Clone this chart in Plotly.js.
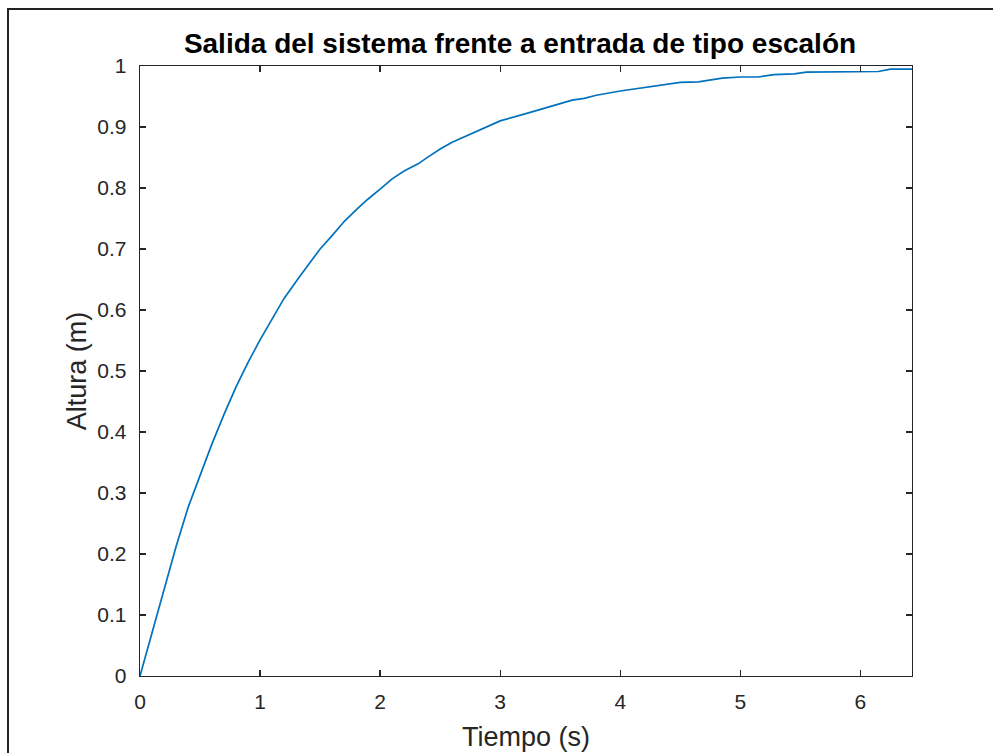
<!DOCTYPE html>
<html>
<head>
<meta charset="utf-8">
<script src="https://cdn.plot.ly/plotly-3.0.1.min.js"></script>
<style>
  html, body { margin: 0; padding: 0; background: #fff; }
  #chart { width: 993px; height: 753px; }
</style>
</head>
<body>
<div id="chart"></div>
<script>
// Step response of the system: time (s) and height (m)
const tiempo = [0, 0.3, 0.4, 0.5, 0.6, 0.7, 0.8, 0.9, 1.0, 1.1, 1.2, 1.33, 1.5, 1.6, 1.7, 1.8, 1.9, 2.0, 2.1, 2.2, 2.32, 2.4, 2.5, 2.6, 2.8, 3.0, 3.2, 3.4, 3.6, 3.7, 3.8, 4.0, 4.2, 4.5, 4.65, 4.85, 5.0, 5.15, 5.28, 5.45, 5.55, 5.75, 6.15, 6.25, 6.43];
const altura = [0, 0.212, 0.276, 0.33, 0.381, 0.429, 0.474, 0.514, 0.551, 0.585, 0.619, 0.655, 0.700, 0.722, 0.745, 0.764, 0.782, 0.798, 0.815, 0.828, 0.840, 0.851, 0.864, 0.875, 0.893, 0.910, 0.921, 0.932, 0.944, 0.947, 0.952, 0.959, 0.965, 0.973, 0.974, 0.980, 0.982, 0.982, 0.986, 0.987, 0.990, 0.990, 0.991, 0.995, 0.995];

const axisColor = '#262626';
const fontFamily = '"Liberation Sans", Arial, sans-serif';

const L = 140, R = 912, T = 66, B = 676;   // plot box in px
const W = 993, H = 753;

const trace = {
  x: tiempo,
  y: altura,
  type: 'scatter',
  mode: 'lines',
  line: { color: '#0072BD', width: 1.7 },
  hoverinfo: 'x+y'
};

const commonAxis = {
  showgrid: false,
  zeroline: false,
  showline: true,
  linecolor: axisColor,
  linewidth: 1.3,
  mirror: 'ticks',
  ticks: 'inside',
  ticklen: 6,
  tickwidth: 1.3,
  tickcolor: axisColor,
  tickfont: { family: fontFamily, size: 21, color: axisColor }
};

const layout = {
  width: W,
  height: H,
  margin: { l: L, r: W - R, t: T, b: H - B, pad: 0 },
  paper_bgcolor: '#ffffff',
  plot_bgcolor: '#ffffff',
  showlegend: false,
  title: {
    text: '<b>Salida del sistema frente a entrada de tipo escalón</b>',
    font: { family: fontFamily, size: 28, color: '#000000' },
    x: 520 / W, xref: 'container', xanchor: 'center',
    y: 1 - 43 / H, yref: 'container', yanchor: 'middle'
  },
  xaxis: Object.assign({}, commonAxis, {
    range: [0, 6.43],
    dtick: 1,
    tick0: 0,
    ticklabelstandoff: 6,
    title: { text: 'Tiempo (s)', font: { family: fontFamily, size: 27, color: axisColor }, standoff: 15 }
  }),
  yaxis: Object.assign({}, commonAxis, {
    range: [0, 1],
    dtick: 0.1,
    tick0: 0,
    ticklabelstandoff: 8,
    title: { text: 'Altura (m)', font: { family: fontFamily, size: 27, color: axisColor }, standoff: 2 }
  }),
  shapes: [{
    // outer figure frame
    type: 'rect',
    xref: 'paper', yref: 'paper',
    x0: (8 - L) / (R - L), x1: (1005 - L) / (R - L),
    y0: (B - 765) / (B - T), y1: (B - 9) / (B - T),
    line: { color: '#222222', width: 2 },
    fillcolor: 'rgba(0,0,0,0)',
    layer: 'below'
  }]
};

Plotly.newPlot('chart', [trace], layout, { staticPlot: true, displayModeBar: false });
</script>
</body>
</html>
